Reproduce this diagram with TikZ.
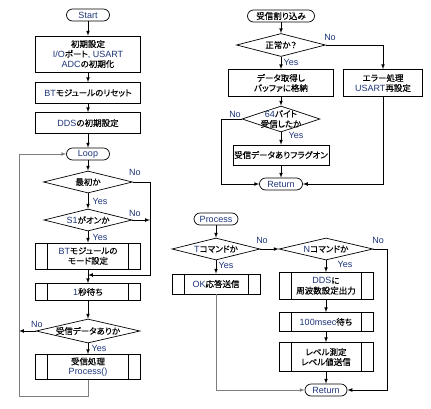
\documentclass[tikz,border=0pt]{standalone}
\usepackage{fontspec}
\newfontfamily\jpfont[RawFeature=+palt, FakeBold=0.4]{Noto Sans CJK JP}
\newfontfamily\enfont{Liberation Sans}
\usetikzlibrary{arrows,shapes}
\definecolor{navy}{RGB}{28,52,120}
\definecolor{lgray}{RGB}{125,125,125}
\newcommand{\en}[1]{{\enfont\fontsize{9}{10}\selectfont\color{navy}#1}}
\tikzset{
  terminal/.style={draw, rounded corners=6pt, minimum width=#1,
    minimum height=12pt, inner sep=0pt},
  terminal/.default=43pt,
  process box/.style n args={2}{draw, align=center,
    minimum width=#1, minimum height=#2, inner sep=0pt},
  sub process/.style n args={2}{process box={#1}{#2},
    path picture={
      \draw ([xshift=12pt]path picture bounding box.north west)
          -- ([xshift=12pt]path picture bounding box.south west)
        ([xshift=-12pt]path picture bounding box.north east)
          -- ([xshift=-12pt]path picture bounding box.south east);
    }},
  decision/.style n args={3}{diamond, draw, minimum width=#1,
    minimum height=#2, inner sep=0pt,
    label={[align=center, inner sep=0pt]center:#3}},
  yesno/.style={inner sep=0pt, font=\enfont\fontsize{9}{10}\selectfont, text=navy},
  flow/.style={->, >=latex},
  back/.style={flow, draw=lgray}
}

\begin{document}
\begin{tikzpicture}[x=1pt, y=-1pt, line width=0.7pt,
    every node/.style={font=\jpfont\fontsize{8.5}{10}\selectfont}]
    \useasboundingbox (0,0) rectangle (431,408);

    % main loop
    \node[terminal] (start) at (88,15) {\en{Start}};
    \node[process box={105pt}{36pt}] (init) at (88,54)
        {初期設定\\\en{I/O}ポート\en{, USART}\\\en{ADC}の初期化};
    \node[process box={105pt}{21pt}] (btreset) at (88,93) {\en{BT}モジュールのリセット};
    \node[process box={105pt}{21pt}] (ddsinit) at (88,123) {\en{DDS}の初期設定};
    \node[terminal] (loop) at (88,154) {\en{Loop}};
    \node[decision={89pt}{22pt}{最初か}] (first) at (88,182) {};
    \node[decision={88pt}{22pt}{\en{S1}がオンか}] (s1on) at (88,220) {};
    \node[sub process={105pt}{26pt}] (btmode) at (88,256) {\en{BT}モジュールの\\モード設定};
    \node[sub process={105pt}{17pt}] (wait1) at (88,292) {\en{1}秒待ち};
    \node[decision={104pt}{24pt}{受信データありか}] (recvq) at (88,331) {};
    \node[sub process={105pt}{25pt}] (recv) at (88,367) {受信処理\\\en{Process()}};

    \coordinate (rjoin) at (150,275);
    \coordinate (mjoin) at (88,275);
    \coordinate (lrail) at (19,396);

    \draw[flow] (start) -- (init);
    \draw[flow] (init) -- (btreset);
    \draw[flow] (btreset) -- (ddsinit);
    \draw[flow] (ddsinit) -- (loop);
    \draw[flow] (loop) -- (first);
    \draw[flow] (first) -- (s1on);
    \draw[flow] (s1on) -- (btmode);
    \draw[flow] (btmode) -- (wait1);
    \draw[flow] (first.east) -| (rjoin) -- (mjoin);
    \draw[flow] (s1on.east) -- (s1on.east -| rjoin);
    \draw[flow] (wait1) -- (recvq);
    \draw[flow] (recvq) -- (recv);
    \draw[flow] (recvq.west) -- (recvq.west -| lrail);
    \draw[back] (recv.south) |- (lrail) |- (loop.west);

    \node[yesno] (y1) at (100,201) {Yes};
    \node[yesno] (n1) at (135,172) {No};
    \node[yesno] (y2) at (100,237) {Yes};
    \node[yesno] (n2) at (135,213) {No};
    \node[yesno] (y3) at (99,348) {Yes};
    \node[yesno] (n3) at (37,324) {No};

    % receive interrupt
    \node[terminal=67pt] (rint) at (281,16) {受信割り込み};
    \node[decision={89pt}{23pt}{正常か？}] (normal) at (281,45) {};
    \node[process box={105pt}{27pt}] (getdata) at (281,83) {データ取得し\\バッファに格納};
    \node[process box={79pt}{27pt}] (err) at (383,83) {エラー処理\\\en{USART}再設定};
    \node[decision={78pt}{26pt}{\en{64}バイト\\受信したか}] (got64) at (281,119) {};
    \node[process box={96pt}{20pt}] (flag) at (281,155) {受信データありフラグオン};
    \node[terminal] (ret1) at (281,184) {\en{Return}};

    \coordinate (nrail) at (221,184);

    \draw[flow] (rint) -- (normal);
    \draw[flow] (normal) -- (getdata);
    \draw[flow] (normal.east) -| (err.north);
    \draw[flow] (getdata) -- (got64);
    \draw[flow] (got64) -- (flag);
    \draw[flow] (flag) -- (ret1);
    \draw[flow] (got64.west) -| (nrail) -- (ret1.west);
    \draw[flow] (err.south) |- (ret1.east);

    \node[yesno] (y4) at (291,62) {Yes};
    \node[yesno] (n4) at (330,37) {No};
    \node[yesno] (y5) at (296,135) {Yes};
    \node[yesno] (n5) at (235,114) {No};

    % command process
    \node[terminal=44pt] (proc) at (216,219) {\en{Process}};
    \node[decision={88pt}{22pt}{\en{T}コマンドか}] (tcmd) at (216,249) {};
    \node[sub process={88pt}{20pt}] (okresp) at (216,284) {\en{OK}応答送信};
    \node[decision={94pt}{22pt}{\en{N}コマンドか}] (ncmd) at (326,249) {};
    \node[sub process={94pt}{27pt}] (dds) at (326,286) {\en{DDS}に\\周波数設定出力};
    \node[sub process={94pt}{19pt}] (w100) at (326,322) {\en{100msec}待ち};
    \node[sub process={94pt}{29pt}] (level) at (326,357) {レベル測定\\レベル値送信};
    \node[terminal=42pt] (ret2) at (326,390) {\en{Return}};

    \coordinate (prail) at (387,390);

    \draw[flow] (proc) -- (tcmd);
    \draw[flow] (tcmd) -- (okresp);
    \draw[flow] (tcmd.east) -- (ncmd.west);
    \draw[flow] (ncmd) -- (dds);
    \draw[flow] (dds) -- (w100);
    \draw[flow] (w100) -- (level);
    \draw[flow] (level) -- (ret2);
    \draw[flow] (ncmd.east) -| (prail) -- (ret2.east);
    \draw[back] (okresp.south) |- (ret2.west);

    \node[yesno] (y6) at (226,265) {Yes};
    \node[yesno] (n6) at (262,240) {No};
    \node[yesno] (y7) at (345,264) {Yes};
    \node[yesno] (n7) at (378,240) {No};
\end{tikzpicture}
\end{document}
